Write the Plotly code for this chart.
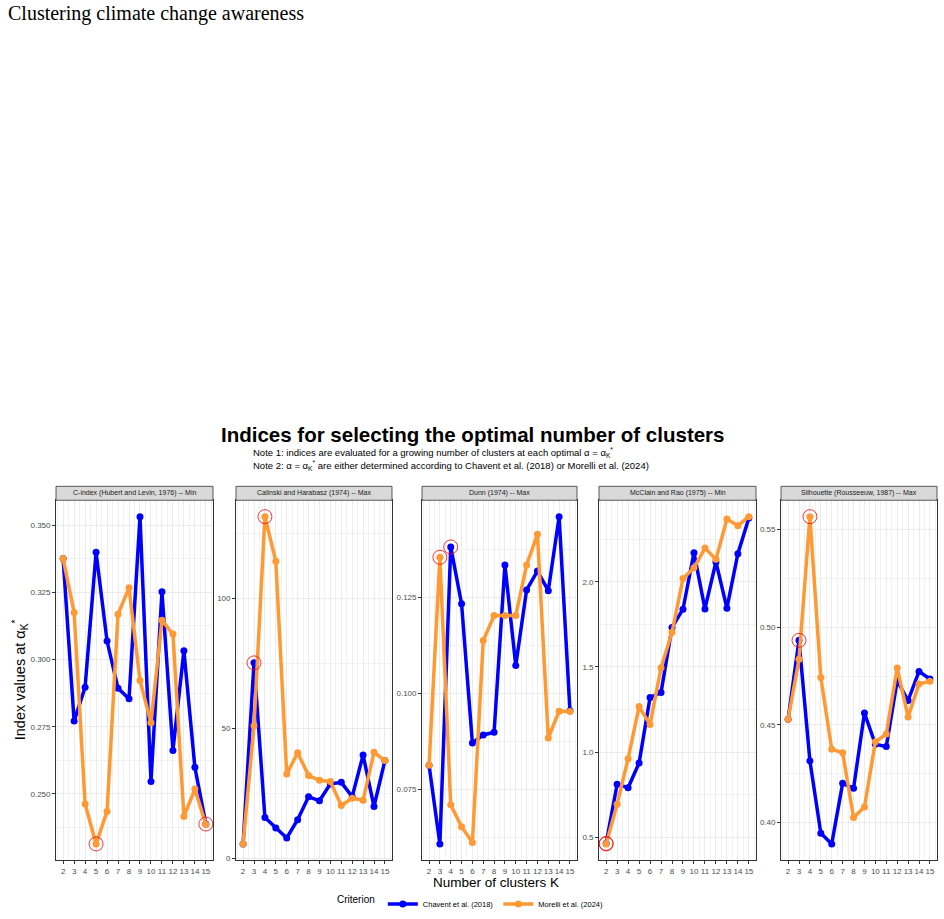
import plotly.graph_objects as go
from plotly.subplots import make_subplots

# ---------------- data ----------------
K = [2, 3, 4, 5, 6, 7, 8, 9, 10, 11, 12, 13, 14, 15]

panel_titles = [
    "C-index (Hubert and Levin, 1976) -- Min",
    "Calinski and Harabasz (1974) -- Max",
    "Dunn (1974) -- Max",
    "McClain and Rao (1975) -- Min",
    "Silhouette (Rousseeuw, 1987) -- Max",
]

cindex_chavent = [0.3376, 0.2771, 0.2897, 0.3399, 0.3069, 0.2893, 0.2854, 0.3532, 0.2546, 0.3252, 0.2662, 0.3033, 0.2599, 0.2388]
cindex_morelli = [0.3376, 0.3175, 0.2463, 0.2314, 0.2435, 0.3169, 0.3267, 0.2922, 0.2765, 0.3146, 0.3095, 0.2416, 0.2518, 0.2386]

calinski_chavent = [5.5, 75.2, 15.7, 11.6, 7.8, 14.8, 23.7, 22.1, 28.6, 29.2, 23.7, 39.7, 19.9, 37.6]
calinski_morelli = [5.5, 51.0, 131.5, 114.3, 32.4, 40.6, 31.8, 30.0, 29.5, 20.3, 23.1, 22.3, 40.8, 37.6]

dunn_chavent = [0.0812, 0.0607, 0.1381, 0.1233, 0.0870, 0.0891, 0.0898, 0.1334, 0.1072, 0.1269, 0.1318, 0.1267, 0.1460, 0.0954]
dunn_morelli = [0.0812, 0.1354, 0.0709, 0.0652, 0.0611, 0.1137, 0.1202, 0.1202, 0.1202, 0.1334, 0.1414, 0.0883, 0.0953, 0.0952]

mcclain_chavent = [0.463, 0.811, 0.790, 0.935, 1.320, 1.349, 1.732, 1.839, 2.171, 1.841, 2.117, 1.845, 2.165, 2.375]
mcclain_morelli = [0.460, 0.693, 0.961, 1.267, 1.161, 1.495, 1.703, 2.019, 2.082, 2.198, 2.132, 2.369, 2.330, 2.383]

silhouette_chavent = [0.4529, 0.4933, 0.4316, 0.3946, 0.3891, 0.4201, 0.4176, 0.4561, 0.4401, 0.4389, 0.4726, 0.4625, 0.4774, 0.4735]
silhouette_morelli = [0.4529, 0.4836, 0.5566, 0.4743, 0.4375, 0.4358, 0.4026, 0.4080, 0.4414, 0.4453, 0.4791, 0.4541, 0.4710, 0.4723]

# optimal K highlighted with a red circle, per panel
opt_chavent_K = [15, 3, 4, 2, 3]
opt_morelli_K = [5, 4, 3, 2, 4]

y_ticks = [
    [0.250, 0.275, 0.300, 0.325, 0.350],
    [0, 50, 100],
    [0.075, 0.100, 0.125],
    [0.5, 1.0, 1.5, 2.0],
    [0.40, 0.45, 0.50, 0.55],
]
y_tick_fmt = [".3f", "d", ".3f", ".1f", ".2f"]

series_chavent = [cindex_chavent, calinski_chavent, dunn_chavent, mcclain_chavent, silhouette_chavent]
series_morelli = [cindex_morelli, calinski_morelli, dunn_morelli, mcclain_morelli, silhouette_morelli]

name_chavent = "Chavent et al. (2018)"
name_morelli = "Morelli et al. (2024)"

# ---------------- style ----------------
W, H = 944, 919
BLUE = "#0000FF"
ORANGE = "#FF9933"
FONT = "Liberation Sans, Arial, sans-serif"
panel_px = [(56, 213), (236, 392), (422, 577), (599, 756), (781, 937)]
plot_top, plot_bot = 503, 865
strip_top = 489


def px_x(v):
    return v / W


def px_y(v):
    return 1 - v / H


fig = make_subplots(rows=1, cols=5)

for i in range(5):
    col = i + 1
    ch = series_chavent[i]
    mo = series_morelli[i]
    fig.add_trace(go.Scatter(
        x=K, y=ch, mode="lines+markers", name=name_chavent,
        line=dict(color=BLUE, width=3.5), marker=dict(color=BLUE, size=7),
        legendgroup="c", showlegend=(i == 0)), row=1, col=col)
    fig.add_trace(go.Scatter(
        x=K, y=mo, mode="lines+markers", name=name_morelli,
        line=dict(color=ORANGE, width=3.5), marker=dict(color=ORANGE, size=7),
        legendgroup="m", showlegend=(i == 0)), row=1, col=col)
    ck = [opt_chavent_K[i], opt_morelli_K[i]]
    cv = [ch[K.index(opt_chavent_K[i])], mo[K.index(opt_morelli_K[i])]]
    fig.add_trace(go.Scatter(
        x=ck, y=cv, mode="markers", showlegend=False, hoverinfo="skip",
        marker=dict(symbol="circle-open", size=14, color="red", line=dict(color="red", width=0.8))),
        row=1, col=col)

    allv = ch + mo
    lo, hi = min(allv), max(allv)
    pad = 0.05 * (hi - lo)
    dt = y_ticks[i][1] - y_ticks[i][0]
    suffix = "" if i == 0 else str(i + 1)
    fig.update_layout(**{
        "xaxis" + suffix: dict(
            domain=[px_x(panel_px[i][0]), px_x(panel_px[i][1])],
            range=[1.35, 15.65], tickmode="array", tickvals=K,
            ticktext=[str(k) for k in K], tickangle=0,
            showgrid=True, gridcolor="#EBEBEB", gridwidth=1,
            minor=dict(tickmode="linear", tick0=1.5, dtick=1, showgrid=True, gridcolor="#F2F2F2", gridwidth=0.6, ticks=""),
            ticks="outside", ticklen=3, tickwidth=0.6, tickcolor="#333333",
            tickfont=dict(family=FONT, size=8, color="#4D4D4D"),
            showline=True, mirror=True, linecolor="#333333", linewidth=0.8,
            zeroline=False, fixedrange=True),
        "yaxis" + suffix: dict(
            domain=[px_y(plot_bot), px_y(plot_top)],
            range=[lo - pad, hi + pad], tickmode="array", tickvals=y_ticks[i],
            ticktext=[format(v, y_tick_fmt[i]) for v in y_ticks[i]],
            showgrid=True, gridcolor="#EBEBEB", gridwidth=1,
            minor=dict(tickmode="linear", tick0=y_ticks[i][0] - dt / 2, dtick=dt, showgrid=True, gridcolor="#F2F2F2", gridwidth=0.6, ticks=""),
            ticks="outside", ticklen=3, tickwidth=0.6, tickcolor="#333333",
            tickfont=dict(family=FONT, size=8, color="#4D4D4D"),
            showline=True, mirror=True, linecolor="#333333", linewidth=0.8,
            zeroline=False, fixedrange=True),
    })
    # strip
    fig.add_shape(type="rect", xref="paper", yref="paper",
                  x0=px_x(panel_px[i][0]), x1=px_x(panel_px[i][1]),
                  y0=px_y(plot_top), y1=px_y(strip_top),
                  fillcolor="#D9D9D9", line=dict(color="#333333", width=0.8))
    fig.add_annotation(x=px_x((panel_px[i][0] + panel_px[i][1]) / 2), y=px_y((plot_top + strip_top) / 2),
                       xref="paper", yref="paper", text=panel_titles[i], showarrow=False,
                       font=dict(family=FONT, size=7, color="#1A1A1A"), xanchor="center", yanchor="middle")

annotations = [
    dict(x=px_x(6), y=px_y(14), text="Clustering climate change awareness", xanchor="left", yanchor="middle",
         font=dict(family="Liberation Serif, Times New Roman, serif", size=20, color="black")),
    dict(x=px_x(473.5), y=px_y(437), text="<b>Indices for selecting the optimal number of clusters</b>",
         xanchor="center", yanchor="middle", font=dict(family=FONT, size=20.5, color="black")),
    dict(x=px_x(251), y=px_y(455),
         text="Note 1: indices are evaluated for a growing number of clusters at each optimal α = α<sub>K</sub><sup>*</sup>",
         xanchor="left", yanchor="middle", font=dict(family=FONT, size=9.5, color="black")),
    dict(x=px_x(251), y=px_y(468),
         text="Note 2: α = α<sub>K</sub><sup>*</sup> are either determined according to Chavent et al. (2018) or Morelli et al. (2024)",
         xanchor="left", yanchor="middle", font=dict(family=FONT, size=9.5, color="black")),
    dict(x=px_x(496.5), y=px_y(887), text="Number of clusters K", xanchor="center", yanchor="middle",
         font=dict(family=FONT, size=13.5, color="black")),
    dict(x=px_x(20), y=px_y(684), text="Index values at α<sub>K</sub><sup>*</sup>", textangle=-90,
         xanchor="center", yanchor="middle", font=dict(family=FONT, size=14.5, color="black")),
]
for a in annotations:
    fig.add_annotation(xref="paper", yref="paper", showarrow=False, **a)

fig.update_layout(
    width=W, height=H, margin=dict(l=0, r=0, t=0, b=0),
    paper_bgcolor="white", plot_bgcolor="white",
    showlegend=True,
    legend=dict(orientation="h", x=0.5, xanchor="center", y=px_y(909), yanchor="middle",
                title=dict(text="Criterion", font=dict(family=FONT, size=10, color="black"), side="left"),
                font=dict(family=FONT, size=7.5, color="black"), itemwidth=30,
                bgcolor="rgba(0,0,0,0)"),
    hovermode=False,
)

fig.write_html("out.html")
